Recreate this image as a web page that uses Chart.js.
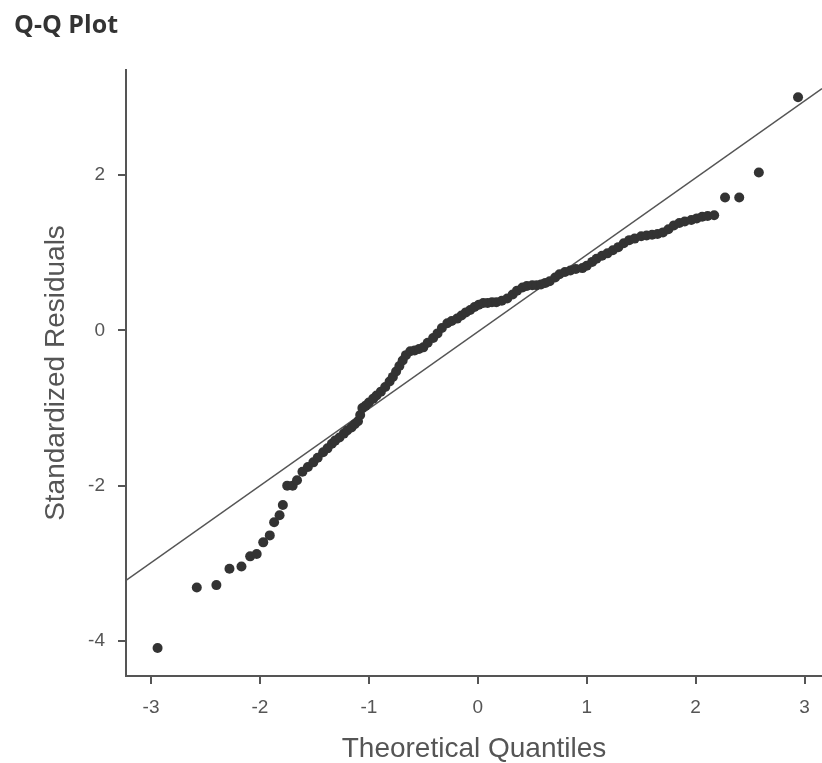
<!DOCTYPE html>
<html>
<head>
<meta charset="utf-8">
<script src="https://cdn.jsdelivr.net/npm/chart.js@4"></script>
<style>
  body { margin: 0; background: #fff; overflow: hidden; }
  canvas { display: block; }
</style>
</head>
<body>
<canvas id="qq" width="822" height="763"></canvas>
<script>
// theoretical quantiles (x) and standardized residuals (y)
const theoretical = [
  -2.94, -2.58, -2.40, -2.28, -2.17, -2.09, -2.03, -1.97, -1.91, -1.87, -1.82, -1.79, -1.75, -1.70,
  -1.66, -1.61, -1.56, -1.51, -1.47, -1.42, -1.38, -1.34, -1.31, -1.27, -1.23, -1.20, -1.16, -1.13,
  -1.10, -1.08, -1.06, -1.03, -1.00, -0.96, -0.93, -0.89, -0.85, -0.81, -0.78, -0.75, -0.72, -0.69,
  -0.66, -0.62, -0.58, -0.54, -0.50, -0.46, -0.41, -0.37, -0.33, -0.28, -0.24, -0.19, -0.15, -0.11,
  -0.07, -0.03, 0.01, 0.05, 0.09, 0.13, 0.17, 0.22, 0.27, 0.32, 0.36, 0.41, 0.45, 0.50, 0.54, 0.58,
  0.62, 0.66, 0.71, 0.75, 0.80, 0.85, 0.90, 0.96, 1.00, 1.05, 1.09, 1.14, 1.19, 1.24, 1.29, 1.34,
  1.39, 1.44, 1.50, 1.55, 1.60, 1.65, 1.70, 1.75, 1.80, 1.85, 1.90, 1.96, 2.01, 2.06, 2.11, 2.17,
  2.27, 2.40, 2.58, 2.94
];
const residuals = [
  -4.09, -3.31, -3.28, -3.07, -3.04, -2.91, -2.88, -2.73, -2.64, -2.47, -2.38, -2.25, -2.00, -2.00,
  -1.93, -1.82, -1.76, -1.70, -1.64, -1.57, -1.52, -1.46, -1.42, -1.38, -1.33, -1.29, -1.25, -1.21,
  -1.17, -1.09, -1.00, -0.97, -0.93, -0.88, -0.84, -0.79, -0.73, -0.66, -0.60, -0.53, -0.46, -0.39,
  -0.32, -0.27, -0.26, -0.24, -0.22, -0.16, -0.10, -0.04, 0.03, 0.09, 0.12, 0.15, 0.19, 0.23,
  0.26, 0.30, 0.33, 0.35, 0.35, 0.36, 0.36, 0.38, 0.41, 0.46, 0.51, 0.55, 0.57, 0.58, 0.58, 0.59,
  0.61, 0.63, 0.68, 0.72, 0.75, 0.77, 0.79, 0.80, 0.83, 0.88, 0.92, 0.96, 0.99, 1.03, 1.07, 1.12,
  1.16, 1.18, 1.21, 1.22, 1.23, 1.24, 1.26, 1.30, 1.35, 1.38, 1.40, 1.42, 1.44, 1.46, 1.47, 1.48,
  1.71, 1.71, 2.03, 3.00
];

// reference line end points
const refLineX = [-3.23, 3.16];
const refLineY = [-3.22, 3.11];

const xTicks = [-3, -2, -1, 0, 1, 2, 3];
const yTicks = [-4, -2, 0, 2];

const axisColor = "#555";
const textFont = "'Liberation Sans', Arial, sans-serif";

const ctx = document.getElementById("qq").getContext("2d");

new Chart(ctx, {
  type: "scatter",
  data: {
    datasets: [
      {
        label: "residuals",
        data: theoretical.map((x, i) => ({ x: x, y: residuals[i] })),
        backgroundColor: "#333",
        borderColor: "#333",
        borderWidth: 0,
        pointRadius: 5,
        order: 1,
      },
      {
        label: "reference",
        data: refLineX.map((x, i) => ({ x: x, y: refLineY[i] })),
        showLine: true,
        borderColor: "#555",
        borderWidth: 1.5,
        pointRadius: 0,
        order: 2,
      },
    ],
  },
  options: {
    responsive: false,
    animation: false,
    layout: { autoPadding: false, padding: { left: 14, right: 0, top: 0, bottom: 0 } },
    plugins: {
      legend: { display: false },
      tooltip: { enabled: false },
      title: {
        display: true,
        text: "Q-Q Plot",
        align: "start",
        color: "#333",
        font: { family: "'Open Sans', sans-serif", size: 25, weight: "bold", lineHeight: 1.2 },
        padding: { top: 11, bottom: 29 },
      },
    },
    scales: {
      x: {
        type: "linear",
        min: -3.23,
        max: 3.16,
        afterBuildTicks: (scale) => {
          scale.ticks = xTicks.map((v) => ({ value: v }));
        },
        afterFit: (scale) => {
          scale.height = 87;
        },
        border: { display: true, color: axisColor, width: 2 },
        grid: { drawOnChartArea: false, drawTicks: true, tickLength: 8, color: axisColor, lineWidth: 2 },
        ticks: { color: "#555", padding: 12, font: { family: textFont, size: 19 } },
        title: {
          display: true,
          text: "Theoretical Quantiles",
          color: "#555",
          font: { family: textFont, size: 28, lineHeight: 1 },
          padding: { top: 0, bottom: 0 },
        },
      },
      y: {
        type: "linear",
        min: -4.45,
        max: 3.35,
        afterBuildTicks: (scale) => {
          scale.ticks = yTicks.map((v) => ({ value: v }));
        },
        afterFit: (scale) => {
          scale.width = 112;
        },
        border: { display: true, color: axisColor, width: 2 },
        grid: { drawOnChartArea: false, drawTicks: true, tickLength: 8, color: axisColor, lineWidth: 2 },
        ticks: { color: "#555", padding: 13, font: { family: textFont, size: 19 } },
        title: {
          display: true,
          text: "Standardized Residuals",
          color: "#555",
          font: { family: textFont, size: 28, lineHeight: 1 },
          padding: { top: 28, bottom: 0 },
        },
      },
    },
  },
});
</script>
</body>
</html>
